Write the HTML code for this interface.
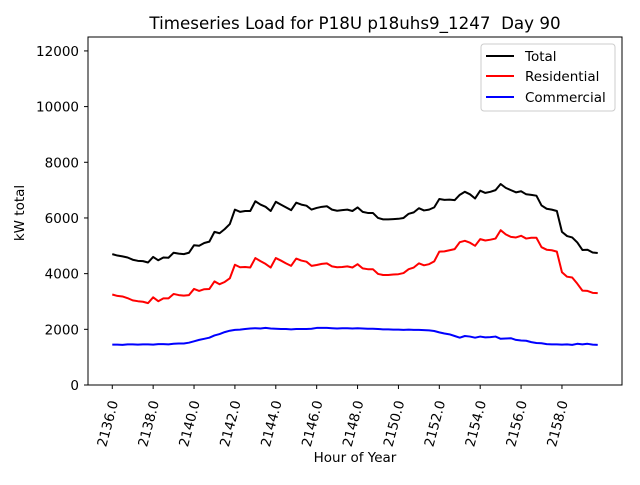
<!DOCTYPE html>
<html><head><meta charset="utf-8"><style>
body{margin:0;background:#fff;}
svg text{font-family:"DejaVu Sans","Liberation Sans",sans-serif;}
</style></head><body>
<svg id="chart" width="640" height="480" xmlns="http://www.w3.org/2000/svg">
<rect width="640" height="480" fill="#fff"/>
<text x="355" y="29" text-anchor="middle" font-size="16.7" xml:space="preserve" style="white-space:pre">Timeseries Load for P18U p18uhs9_1247  Day 90</text>
<g id="ticks"></g>
<g id="series"></g>
<rect x="88" y="37" width="534" height="348" fill="none" stroke="#000" stroke-width="1"/>
<text x="355" y="462" text-anchor="middle" font-size="13.5">Hour of Year</text>
<text transform="translate(24,213) rotate(-90)" text-anchor="middle" font-size="13.5">kW total</text>
<g>
<rect x="481" y="44" width="134" height="67" rx="3" fill="#fff" fill-opacity="0.8" stroke="#ccc"/>
<g><line x1="486" y1="56" x2="514" y2="56" stroke="#000" stroke-width="2"/><text x="525" y="61" font-size="13.5">Total</text></g>
<g><line x1="486" y1="76" x2="514" y2="76" stroke="#f00" stroke-width="2"/><text x="525" y="81" font-size="13.5">Residential</text></g>
<g><line x1="486" y1="97" x2="514" y2="97" stroke="#00f" stroke-width="2"/><text x="525" y="102" font-size="13.5">Commercial</text></g>
</g>
</svg>
<script>
const startHour = 2136;
const stepHour = 0.25;
const totalLoad = [4700,4650,4620,4580,4500,4460,4450,4400,
4600,4480,4580,4570,4750,4720,4700,4750,
5020,5000,5100,5150,5500,5450,5600,5780,
6300,6220,6250,6250,6600,6480,6400,6250,
6580,6480,6380,6280,6550,6480,6440,6300,
6360,6400,6420,6300,6260,6280,6300,6250,
6380,6220,6180,6180,6000,5950,5950,5960,
5970,6000,6150,6200,6350,6270,6300,6380,
6680,6650,6660,6640,6830,6940,6850,6700,
6980,6900,6940,7000,7220,7080,7000,6920,
6960,6850,6830,6800,6450,6330,6300,6250,
5500,5350,5300,5120,4850,4860,4760,4740];
const residentialLoad = [3250,3200,3180,3120,3040,3010,2990,2940,
3150,3010,3110,3110,3270,3230,3210,3230,
3450,3380,3440,3450,3720,3620,3700,3830,
4320,4230,4240,4220,4560,4450,4350,4220,
4560,4470,4370,4280,4540,4470,4430,4280,
4310,4350,4370,4260,4230,4240,4260,4220,
4340,4190,4160,4160,3990,3950,3950,3970,
3980,4020,4160,4220,4370,4300,4340,4440,
4790,4800,4840,4880,5130,5180,5110,5000,
5240,5190,5220,5260,5560,5410,5320,5300,
5360,5260,5290,5290,4950,4860,4840,4790,
4050,3890,3860,3640,3390,3380,3310,3300];
const commercialLoad = [1450,1450,1440,1460,1460,1450,1460,1460,
1450,1470,1470,1460,1480,1490,1490,1520,
1570,1620,1660,1700,1780,1830,1900,1950,
1980,1990,2010,2030,2040,2030,2050,2030,
2020,2010,2010,2000,2010,2010,2010,2020,
2050,2050,2050,2040,2030,2040,2040,2030,
2040,2030,2020,2020,2010,2000,2000,1990,
1990,1980,1990,1980,1980,1970,1960,1940,
1890,1850,1820,1760,1700,1760,1740,1700,
1740,1710,1720,1740,1660,1670,1680,1620,
1600,1590,1540,1510,1500,1470,1460,1460,
1450,1460,1440,1480,1460,1480,1450,1440];
const xTicks = [2136,2138,2140,2142,2144,2146,2148,2150,2152,2154,2156,2158];
const yTicks = [0,2000,4000,6000,8000,10000,12000];

const NS='http://www.w3.org/2000/svg';
const L=88,R=622,T=37,B=385;
const n=totalLoad.length;
const xmin=startHour-(n-1)*stepHour*0.05, xmax=startHour+(n-1)*stepHour*1.05;
const ymin=0,ymax=12500;
function sx(v){return L+(v-xmin)/(xmax-xmin)*(R-L);}
function sy(v){return B-(v-ymin)/(ymax-ymin)*(B-T);}
function mk(tag,attrs,parent){const e=document.createElementNS(NS,tag);for(const k in attrs)e.setAttribute(k,attrs[k]);parent.appendChild(e);return e;}
const tg=document.getElementById('ticks');
xTicks.forEach(t=>{
  const x=sx(t);
  const ln=mk('line',{x1:x,y1:B,x2:x,y2:B+4,stroke:'#000'},tg);
  
  
  const tx=mk('text',{'font-size':13.5,'text-anchor':'end',transform:`translate(${x+6},${B+17}) rotate(-75)`},tg);
  tx.textContent=t.toFixed(1);
  
  
});
yTicks.forEach(t=>{
  const y=sy(t);
  const ln=mk('line',{x1:L-4,y1:y,x2:L,y2:y,stroke:'#000'},tg);
  
  
  const tx=mk('text',{x:L-9,y:y+5,'font-size':13.5,'text-anchor':'end'},tg);
  tx.textContent=t;
  
  
});
const sg=document.getElementById('series');
function line(arr,color,name){
  const pts=arr.map((v,i)=>sx(startHour+i*stepHour).toFixed(2)+','+sy(v).toFixed(2)).join(' ');
  const p=mk('polyline',{points:pts,fill:'none',stroke:color,'stroke-width':2,'stroke-linejoin':'round'},sg);
  
  
}
line(totalLoad,'#000','total-line');
line(residentialLoad,'#f00','residential-line');
line(commercialLoad,'#00f','commercial-line');
</script>
</body></html>
